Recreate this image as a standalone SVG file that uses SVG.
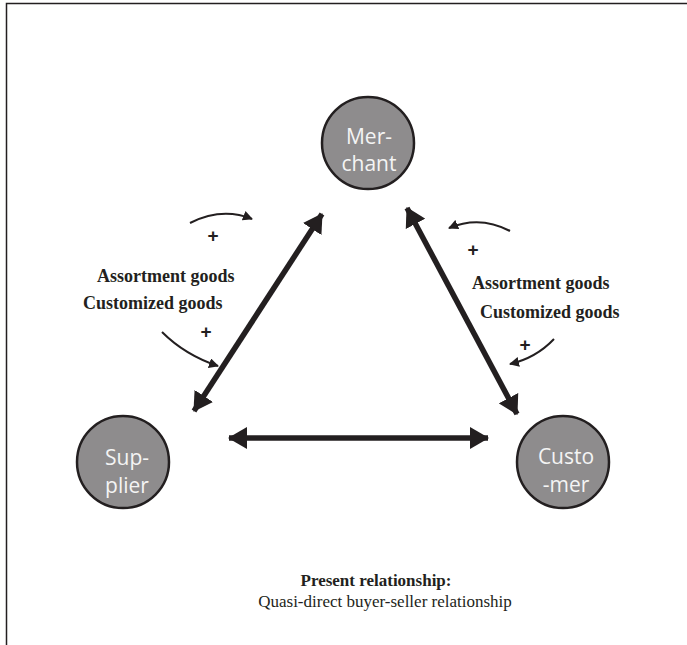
<svg xmlns="http://www.w3.org/2000/svg" width="687" height="645" viewBox="0 0 687 645">
<style>
.node circle{fill:#8e8c8d;stroke:#231f20;stroke-width:2.5}
.node text{font-family:"Open Sans","Liberation Sans",sans-serif;font-size:21px;fill:#f4f4f4;text-anchor:middle}
.thick{stroke:#231f20;stroke-width:5.5;fill:none}
.thin{stroke:#231f20;stroke-width:2;fill:none}
.lbl{font-family:"Liberation Serif",serif;font-weight:bold;font-size:18px;fill:#231f20}
.plus{font-family:"Liberation Sans",sans-serif;font-weight:bold;font-size:19px;fill:#231f20;text-anchor:middle}
.cap{font-family:"Liberation Serif",serif;font-size:17px;fill:#231f20;text-anchor:middle}
</style>
<defs>
<marker id="big" markerUnits="userSpaceOnUse" markerWidth="20" markerHeight="22" refX="18" refY="11" orient="auto-start-reverse" viewBox="0 0 20 22">
<path d="M0,0 L19,11 L0,22 Z" fill="#231f20"/>
</marker>
<marker id="small" markerUnits="userSpaceOnUse" markerWidth="10" markerHeight="10" refX="9" refY="5" orient="auto" viewBox="0 0 10 10">
<path d="M0,0 L10,5 L0,10 Z" fill="#231f20"/>
</marker>
</defs>
<rect width="687" height="645" fill="#ffffff"/>
<path d="M6.5,645 V3.5 H687" fill="none" stroke="#231f20" stroke-width="1.5"/>
<g id="connectors">
<line class="thick" x1="194" y1="411" x2="322" y2="214" marker-start="url(#big)" marker-end="url(#big)"/>
<line class="thick" x1="407" y1="208" x2="517" y2="414" marker-start="url(#big)" marker-end="url(#big)"/>
<line class="thick" x1="229" y1="438" x2="488" y2="438" marker-start="url(#big)" marker-end="url(#big)"/>
<path class="thin" d="M190,223 Q222,207 252,219" marker-end="url(#small)"/>
<path class="thin" d="M162,332 Q185,355 218,366" marker-end="url(#small)"/>
<path class="thin" d="M510,231 Q480,215 449,228" marker-end="url(#small)"/>
<path class="thin" d="M554,339 Q536,358 510,364" marker-end="url(#small)"/>
</g>
<g id="labels">
<text class="plus" x="213" y="242">+</text>
<text class="plus" x="206" y="338">+</text>
<text class="plus" x="473" y="256">+</text>
<text class="plus" x="525" y="351">+</text>
<text class="lbl" x="97" y="282">Assortment goods</text>
<text class="lbl" x="83" y="309">Customized goods</text>
<text class="lbl" x="472" y="289">Assortment goods</text>
<text class="lbl" x="480" y="318">Customized goods</text>
<text class="cap" x="376" y="586" font-weight="bold">Present relationship:</text>
<text class="cap" x="385" y="607">Quasi-direct buyer-seller relationship</text>
</g>
<g id="merchant" class="node">
<circle cx="368" cy="143" r="46"/>
<text x="369" y="144">Mer-</text>
<text x="369" y="171">chant</text>
</g>
<g id="supplier" class="node">
<circle cx="123" cy="462" r="46"/>
<text x="127" y="465">Sup-</text>
<text x="127" y="493">plier</text>
</g>
<g id="customer" class="node">
<circle cx="563" cy="462" r="46"/>
<text x="566" y="464">Custo</text>
<text x="566" y="492">-mer</text>
</g>
</svg>
